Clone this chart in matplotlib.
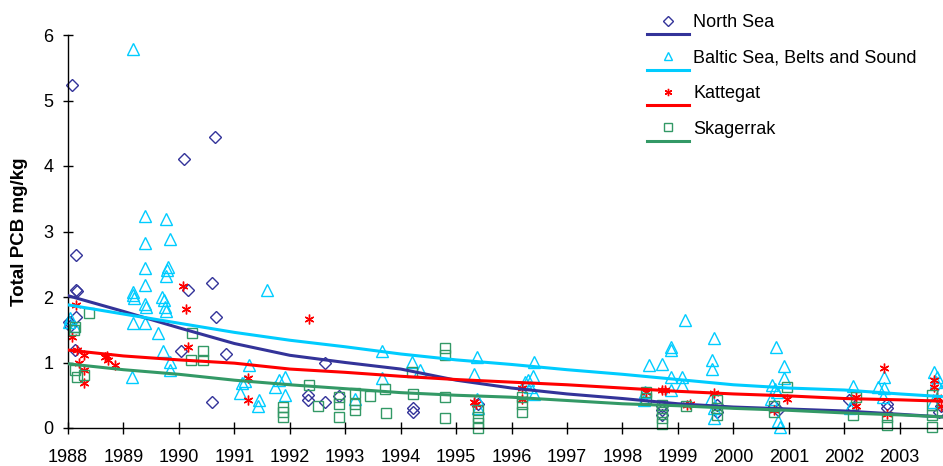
import numpy as np
import matplotlib
matplotlib.use('Agg')
import matplotlib.pyplot as plt
from matplotlib.lines import Line2D
from matplotlib.legend_handler import HandlerBase

plt.rcParams['font.family'] = ['Liberation Sans', 'DejaVu Sans']

# ── Data (year, total PCB mg/kg) ─────────────────────────────────────
north_x = [1988.07, 1988.14, 1988.14, 1988.16, 1988.14, 1988.04, 1988.02, 1988.13,
           1990.09, 1990.65, 1990.17, 1990.59, 1990.67, 1990.04, 1990.85, 1990.59,
           1992.33, 1992.33, 1992.64, 1992.63, 1992.88, 1994.23, 1994.23, 1995.39,
           1998.71, 1998.71, 1998.71, 1999.70, 1999.70, 2000.73, 2000.80, 2002.08,
           2002.15, 2002.77, 2002.77, 2003.74, 2003.70]
north_y = [5.24, 2.64, 2.11, 2.09, 1.70, 1.55, 1.62, 1.19,
           4.11, 4.44, 2.11, 2.21, 1.70, 1.17, 1.13, 0.39,
           0.50, 0.43, 1.00, 0.39, 0.49, 0.30, 0.24, 0.36,
           0.33, 0.27, 0.20, 0.35, 0.25, 0.33, 0.28, 0.43,
           0.30, 0.30, 0.36, 0.33, 0.25]

baltic_x = [1988.04, 1988.02, 1988.10,
            1989.17, 1989.39, 1989.77, 1989.38, 1989.84, 1989.39, 1989.78, 1989.80,
            1989.76, 1989.39, 1989.18, 1989.17, 1989.19, 1989.39, 1989.40, 1989.69,
            1989.73, 1989.75, 1989.76, 1989.18, 1989.39, 1989.63, 1989.72, 1989.84,
            1989.84, 1989.15,
            1991.59, 1991.27, 1991.13, 1991.10, 1991.44, 1991.42, 1991.80, 1991.92,
            1991.74, 1991.92, 1991.20,
            1993.67, 1993.67, 1993.18, 1994.20, 1994.35,
            1995.38, 1995.33, 1995.38, 1995.40,
            1996.40, 1996.30, 1996.38, 1996.33, 1996.40, 1996.25,
            1998.47, 1998.71, 1998.88, 1998.88, 1999.12, 1998.88, 1999.07, 1999.07,
            1998.88, 1998.38, 1998.40,
            1999.65, 1999.62, 1999.62, 1999.65, 1999.65, 1999.60,
            2000.76, 2000.91, 2000.91, 2000.70, 2000.78, 2000.68, 2000.84, 2000.80,
            2000.75,
            2002.15, 2002.10, 2002.60, 2002.72, 2002.69, 2002.72,
            2003.62, 2003.68, 2003.74, 2003.66, 2003.60]
baltic_y = [1.68, 1.62, 1.55,
            5.79, 3.23, 3.19, 2.83, 2.88, 2.44, 2.41, 2.46,
            2.32, 2.18, 2.08, 2.03, 1.98, 1.90, 1.85, 2.00,
            1.95, 1.85, 1.78, 1.60, 1.60, 1.45, 1.17, 1.01,
            0.89, 0.78,
            2.11, 0.96, 0.68, 0.53, 0.43, 0.33, 0.73, 0.78,
            0.63, 0.50, 0.72,
            1.17, 0.76, 0.45, 1.01, 0.88,
            1.08, 0.83, 0.45, 0.30,
            1.01, 0.73, 0.80, 0.62, 0.52, 0.70,
            0.96, 0.98, 1.24, 1.19, 1.65, 0.78, 0.78, 0.66,
            0.58, 0.43, 0.55,
            1.37, 1.04, 0.90, 0.30, 0.15, 0.45,
            1.24, 0.94, 0.76, 0.65, 0.55, 0.45, 0.02, 0.10,
            0.60,
            0.64, 0.30, 0.63, 0.61, 0.48, 0.78,
            0.86, 0.78, 0.58, 0.70, 0.40]

kattegat_x = [1988.14, 1988.07, 1988.16, 1988.28, 1988.19, 1988.28, 1988.28, 1988.67,
              1988.73, 1988.70, 1988.84, 1990.08, 1990.12, 1990.16, 1991.24, 1991.24,
              1992.34, 1995.33, 1995.35, 1996.19, 1996.19, 1998.42, 1998.71, 1998.77,
              1999.16, 1999.22, 1999.65, 2000.73, 2000.97, 2002.22, 2002.22, 2002.72,
              2002.77, 2003.62, 2003.62, 2003.68, 2003.74]
kattegat_y = [1.88, 1.39, 1.19, 1.11, 0.99, 0.89, 0.68, 1.09,
              1.04, 1.10, 0.96, 2.17, 1.81, 1.24, 0.76, 0.43,
              1.66, 0.40, 0.36, 0.61, 0.45, 0.55, 0.58, 0.58,
              0.35, 0.36, 0.53, 0.28, 0.45, 0.48, 0.33, 0.91,
              0.22, 0.73, 0.63, 0.48, 0.33]

skag_x = [1988.37, 1988.13, 1988.10, 1988.13, 1988.16, 1988.29, 1990.23, 1990.22,
          1990.44, 1990.44, 1991.87, 1991.87, 1991.87, 1992.34, 1992.50, 1992.88,
          1992.88, 1992.88, 1993.18, 1993.18, 1993.18, 1993.45, 1993.72, 1993.73,
          1994.20, 1994.22, 1994.79, 1994.79, 1994.79, 1994.79, 1995.40, 1995.40,
          1995.40, 1995.40, 1996.18, 1996.18, 1996.18, 1998.42, 1998.42, 1998.71,
          1998.71, 1998.71, 1998.71, 1999.14, 1999.70, 1999.70, 1999.70, 2000.73,
          2000.73, 2000.97, 2002.22, 2002.15, 2002.77, 2002.77, 2003.59, 2003.59,
          2003.59, 2003.59]
skag_y = [1.75, 1.54, 1.50, 0.88, 0.78, 0.81, 1.45, 1.04,
          1.17, 1.04, 0.32, 0.25, 0.17, 0.66, 0.34, 0.48,
          0.36, 0.17, 0.54, 0.37, 0.28, 0.49, 0.59, 0.23,
          0.86, 0.52, 1.22, 1.12, 0.48, 0.15, 0.27, 0.17,
          0.07, 0.00, 0.48, 0.36, 0.25, 0.55, 0.46, 0.35,
          0.25, 0.15, 0.06, 0.34, 0.42, 0.30, 0.20, 0.33,
          0.25, 0.62, 0.48, 0.20, 0.17, 0.05, 0.50, 0.35,
          0.20, 0.02]

# trend lines
trend_x = [1988, 1989, 1990, 1991, 1992, 1993, 1994, 1995, 1996, 1997, 1998,
           1999, 2000, 2001, 2002, 2003, 2003.75]
north_trend = [2.02, 1.78, 1.53, 1.29, 1.11, 1.00, 0.90, 0.73, 0.61, 0.52, 0.45,
               0.37, 0.32, 0.29, 0.26, 0.21, 0.17]
baltic_trend = [1.88, 1.74, 1.60, 1.46, 1.34, 1.24, 1.13, 1.04, 0.97, 0.89, 0.82,
                0.74, 0.66, 0.61, 0.58, 0.52, 0.48]
kattegat_trend = [1.19, 1.10, 1.04, 0.99, 0.90, 0.85, 0.79, 0.74, 0.70, 0.66, 0.61,
                  0.56, 0.52, 0.49, 0.45, 0.43, 0.41]
skag_trend = [0.98, 0.89, 0.82, 0.73, 0.66, 0.60, 0.54, 0.50, 0.47, 0.42, 0.37,
              0.34, 0.30, 0.27, 0.23, 0.20, 0.17]

years = list(range(1988, 2004))

# ── Styles ───────────────────────────────────────────────────────────
SERIES = [
    ('North Sea', north_x, north_y, north_trend, '#333399', 'D', 6.5),
    ('Baltic Sea, Belts and Sound', baltic_x, baltic_y, baltic_trend, '#00CCFF', '^', 8),
    ('Kattegat', kattegat_x, kattegat_y, kattegat_trend, '#FF0000', (6, 2, 0), 7),
    ('Skagerrak', skag_x, skag_y, skag_trend, '#339966', 's', 7),
]


class MarkerOverLine(HandlerBase):
    """Excel style legend key: marker sitting above a short line."""
    def create_artists(self, legend, orig_handle, xdescent, ydescent,
                       width, height, fontsize, trans):
        color = orig_handle.get_color()
        yc = height / 2 - ydescent
        ln = Line2D([-xdescent, width - xdescent], [yc - 9.5, yc - 9.5],
                    color=color, lw=2.2, transform=trans)
        mk = Line2D([width / 2 - xdescent], [yc], marker=orig_handle.get_marker(),
                    ms=orig_handle.get_markersize() * 0.75, mfc='none',
                    mec=color, mew=1, ls='none', transform=trans)
        return [ln, mk]


fig = plt.figure(figsize=(9.43, 4.66), dpi=100, facecolor='white')
ax = fig.add_axes([68 / 943, 38 / 466, 875 / 943, 393 / 466])

handles = []
for name, xs, ys, trend, color, marker, ms in SERIES:
    ax.plot(xs, ys, ls='none', marker=marker, ms=ms, mfc='none', mec=color,
            mew=1, clip_on=False, zorder=2)
    ax.plot(trend_x, trend, color=color, lw=2.2, zorder=3)
    handles.append(Line2D([], [], color=color, marker=marker, ms=ms))

ax.set_xlim(1988, 2003.78)
ax.set_ylim(0, 6)
ax.set_xticks(years)
ax.set_xticklabels([str(y) for y in years])
ax.set_yticks(range(0, 7))
for side in ('top', 'right'):
    ax.spines[side].set_visible(False)
for side in ('left', 'bottom'):
    ax.spines[side].set_linewidth(1.0)
ax.tick_params(axis='y', direction='inout', length=7, width=1, labelsize=13, pad=7)
ax.tick_params(axis='x', direction='inout', length=8, width=1, labelsize=13, pad=11)

ax.set_ylabel('Total PCB mg/kg', fontsize=13.5, fontweight='bold')
ax.yaxis.set_label_coords(-0.046, 0.5)

leg = ax.legend(handles, [s[0] for s in SERIES], loc='upper left',
                bbox_to_anchor=(647 / 943, 1 - 13 / 466), bbox_transform=fig.transFigure,
                frameon=False, fontsize=13, handler_map={Line2D: MarkerOverLine()},
                handlelength=2.35, handleheight=1.0, handletextpad=0.2,
                labelspacing=0.95, borderpad=0, borderaxespad=0)

fig.savefig('out.png', dpi=100, facecolor='white')
